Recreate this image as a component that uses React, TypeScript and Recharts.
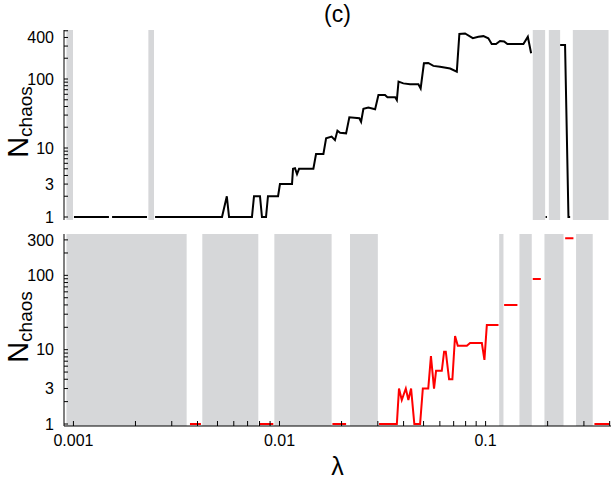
import {
  LineChart,
  Line,
  XAxis,
  YAxis,
  ReferenceArea,
} from 'recharts'

// lambda values (x) and N_chaos (y); null = gap in the curve
const lamTop = [
  0.001006, 0.001487, 0.00151, 0.00154, 0.002275, 0.00238, 0.00249, 0.00526, 0.00555, 0.00569,
  0.00735, 0.00752, 0.00804, 0.00822, 0.0086, 0.00879, 0.00984, 0.01005, 0.0115, 0.01163,
  0.01189, 0.01216, 0.01244, 0.0146, 0.01504, 0.01633, 0.01683, 0.0179, 0.01858, 0.0191,
  0.01967, 0.02104, 0.02182, 0.0244, 0.02488, 0.02553, 0.02699, 0.0291, 0.0302, 0.0325,
  0.0334, 0.0364, 0.0371, 0.0378, 0.0399, 0.043, 0.0472, 0.0484, 0.0502, 0.0527,
  0.0558, 0.0601, 0.0673, 0.0725, 0.0746, 0.0795, 0.0867, 0.0923, 0.0976, 0.1031,
  0.1071, 0.1124, 0.1175, 0.123, 0.1276, 0.1526, 0.1603, 0.1663, 0.18, 0.1955,
  0.1985, 0.21, 0.23, 0.243, 0.2524, 0.2572,
]
const nTop = [
  1, 1, null, 1, 1, null, 1, 1, 2, 1,
  1, 2, 2, 1, 1, 2, 2, 3, 3, 5,
  5.1, 4.2, 5, 5, 8.2, 8.2, 13.8, 14.6, 13, 17.8,
  16.6, 16.3, 27.9, 27, 24, 37, 38.7, 36.5, 58.6, 58.6,
  54.5, 54.5, 49.6, 91.5, 86.4, 84, 84, 73, 169, 171,
  155, 150, 142, 128, 449, 457, 390, 410, 418, 390,
  321, 321, 355, 350, 321, 321, 410, 236, null, 1,
  1, null, 311, 311, 1, 1,
]

const lamBot = [
  0.003677, 0.004157, 0.006, 0.00795, 0.00933, 0.013, 0.01806, 0.02104, 0.026, 0.0304,
  0.0371, 0.038, 0.0392, 0.041, 0.0422, 0.0435, 0.0451, 0.0481, 0.0496, 0.0527,
  0.0543, 0.0562, 0.0575, 0.0613, 0.0629, 0.0641, 0.0665, 0.069, 0.0711, 0.0733,
  0.0811, 0.0841, 0.0959, 0.0987, 0.1014, 0.1155, 0.119, 0.123, 0.1427, 0.155,
  0.1694, 0.1853, 0.21, 0.2433, 0.2668, 0.3, 0.3374, 0.4,
]
const nBot = [
  1, 1, null, 1, 1, null, 1, 1, null, 1,
  1, 3, 2.1, 3, 2.1, 3, 1, 1, 3, 3,
  8.2, 3, 5.2, 5.2, 9.4, 9.4, 4, 4, 15.3, 11.3,
  11.3, 12.3, 12.3, 7.3, 21.5, 21.5, null, 40, 40, null,
  89.5, 89.5, null, 315, 315, null, 1, 1,
]

// shaded (non-chaotic) lambda ranges
const bandsTop: [number, number][] = [
  [0.000925, 0.000995],
  [0.00231, 0.00246],
  [0.1694, 0.1945],
  [0.2027, 0.23],
  [0.265, 0.395],
]
const bandsBot: [number, number][] = [
  [0.000925, 0.003543],
  [0.00422, 0.00789],
  [0.00944, 0.0179],
  [0.02198, 0.03],
  [0.1164, 0.1221],
  [0.146, 0.1675],
  [0.193, 0.2389],
  [0.2748, 0.331],
]

const xTicks = [
  0.001, 0.002, 0.003, 0.004, 0.005, 0.006, 0.007, 0.008, 0.009,
  0.01, 0.02, 0.03, 0.04, 0.05, 0.06, 0.07, 0.08, 0.09,
  0.1, 0.2, 0.3, 0.4,
]
const xLabels = [0.001, 0.01, 0.1]
const yTicksTop = [1, 2, 3, 4, 5, 6, 7, 8, 9, 10, 20, 30, 40, 50, 60, 70, 80, 90, 100, 200, 300, 400, 500]
const yLabelsTop = [1, 3, 10, 100, 400]
const yTicksBot = [1, 2, 3, 4, 5, 6, 7, 8, 9, 10, 20, 30, 40, 50, 60, 70, 80, 90, 100, 200, 300]
const yLabelsBot = [1, 3, 10, 100, 300]

const X_DOMAIN: [number, number] = [0.0009, 0.406]
const Y_DOMAIN_TOP: [number, number] = [0.905, 513]
const Y_DOMAIN_BOT: [number, number] = [0.94, 360]

const FONT = '"Liberation Sans", Arial, Helvetica, sans-serif'
const BAND = '#d6d7d9'

const topData = lamTop.map((lam, i) => ({ lam, n: nTop[i] }))
const botData = lamBot.map((lam, i) => ({ lam, n: nBot[i] }))

function NLabel(props: any) {
  const { viewBox } = props
  const cx = viewBox.x + 28
  const cy = viewBox.y + viewBox.height / 2 - 3
  return (
    <text
      x={cx}
      y={cy}
      transform={`rotate(-90 ${cx} ${cy})`}
      textAnchor="middle"
      fill="#000"
      fontFamily={FONT}
    >
      <tspan fontSize={29}>N</tspan>
      <tspan fontSize={19} dy={4}>chaos</tspan>
    </text>
  )
}

const tickStyle = { fill: '#000', fontSize: 16, fontFamily: FONT }
const noLabel = { fill: 'none', fontSize: 1 }
const axisLine = { stroke: '#000', strokeWidth: 1 }
const tickLine = { stroke: '#000', strokeWidth: 1 }
const blank = () => ''

export default function App() {
  return (
    <div style={{ position: 'absolute', left: 0, top: 0, width: 616, height: 479, background: '#fff', fontFamily: FONT }}>
      <div
        style={{
          position: 'absolute',
          left: 64,
          width: 547,
          top: 0,
          textAlign: 'center',
          fontSize: 23,
          lineHeight: '28px',
          color: '#000',
        }}
      >
        (c)
      </div>

      {/* top panel */}
      <div style={{ position: 'absolute', left: 0, top: 0 }}>
        <LineChart width={616} height={230} data={topData} margin={{ top: 30, right: 5, bottom: 10, left: 0 }}>
          <XAxis
            dataKey="lam"
            type="number"
            scale="log"
            domain={X_DOMAIN}
            allowDataOverflow
            height={0}
            tick={false}
            tickLine={false}
            axisLine={axisLine}
          />
          <XAxis
            xAxisId="t"
            orientation="top"
            dataKey="lam"
            type="number"
            scale="log"
            domain={X_DOMAIN}
            allowDataOverflow
            height={0}
            tick={false}
            tickLine={false}
            axisLine={axisLine}
          />
          <YAxis
            type="number"
            scale="log"
            domain={Y_DOMAIN_TOP}
            allowDataOverflow
            width={64}
            ticks={yTicksTop}
            interval={0}
            tickSize={-4}
            tickMargin={14}
            tick={tickStyle}
            tickLine={tickLine}
            axisLine={axisLine}
            tickFormatter={(v: number) => (yLabelsTop.includes(v) ? String(v) : '')}
            label={<NLabel />}
          />
          <YAxis
            yAxisId="r"
            orientation="right"
            type="number"
            scale="log"
            domain={Y_DOMAIN_TOP}
            allowDataOverflow
            width={0}
            ticks={yTicksTop}
            interval={0}
            tickSize={-5}
            tick={noLabel}
            tickFormatter={blank}
            tickLine={tickLine}
            axisLine={axisLine}
          />
          {bandsTop.map(([a, b], i) => (
            <ReferenceArea key={i} x1={a} x2={b} fill={BAND} fillOpacity={1} stroke="none" ifOverflow="hidden" />
          ))}
          <Line
            type="linear"
            dataKey="n"
            stroke="#000"
            strokeWidth={2}
            dot={false}
            connectNulls={false}
            isAnimationActive={false}
          />
        </LineChart>
      </div>

      {/* bottom panel */}
      <div style={{ position: 'absolute', left: 0, top: 230 }}>
        <LineChart width={616} height={249} data={botData} margin={{ top: 4, right: 5, bottom: 0, left: 0 }}>
          <XAxis
            dataKey="lam"
            type="number"
            scale="log"
            domain={X_DOMAIN}
            allowDataOverflow
            height={53}
            ticks={xTicks}
            interval={0}
            tickSize={-5}
            tickMargin={14}
            tick={tickStyle}
            tickLine={tickLine}
            axisLine={axisLine}
            tickFormatter={(v: number) => (xLabels.includes(v) ? String(v) : '')}
            label={{ value: 'λ', position: 'insideBottom', offset: 4, fontSize: 25, fill: '#000', fontFamily: FONT }}
          />
          <XAxis
            xAxisId="t"
            orientation="top"
            dataKey="lam"
            type="number"
            scale="log"
            domain={X_DOMAIN}
            allowDataOverflow
            height={0}
            ticks={xTicks}
            interval={0}
            tickSize={-5}
            tick={noLabel}
            tickFormatter={blank}
            tickLine={tickLine}
            axisLine={axisLine}
          />
          <YAxis
            type="number"
            scale="log"
            domain={Y_DOMAIN_BOT}
            allowDataOverflow
            width={64}
            ticks={yTicksBot}
            interval={0}
            tickSize={-4}
            tickMargin={14}
            tick={tickStyle}
            tickLine={tickLine}
            axisLine={axisLine}
            tickFormatter={(v: number) => (yLabelsBot.includes(v) ? String(v) : '')}
            label={<NLabel />}
          />
          <YAxis
            yAxisId="r"
            orientation="right"
            type="number"
            scale="log"
            domain={Y_DOMAIN_BOT}
            allowDataOverflow
            width={0}
            ticks={yTicksBot}
            interval={0}
            tickSize={-5}
            tick={noLabel}
            tickFormatter={blank}
            tickLine={tickLine}
            axisLine={axisLine}
          />
          {bandsBot.map(([a, b], i) => (
            <ReferenceArea key={i} x1={a} x2={b} fill={BAND} fillOpacity={1} stroke="none" ifOverflow="hidden" />
          ))}
          <Line
            type="linear"
            dataKey="n"
            stroke="#ff0000"
            strokeWidth={2}
            dot={false}
            connectNulls={false}
            isAnimationActive={false}
          />
        </LineChart>
      </div>
    </div>
  )
}
